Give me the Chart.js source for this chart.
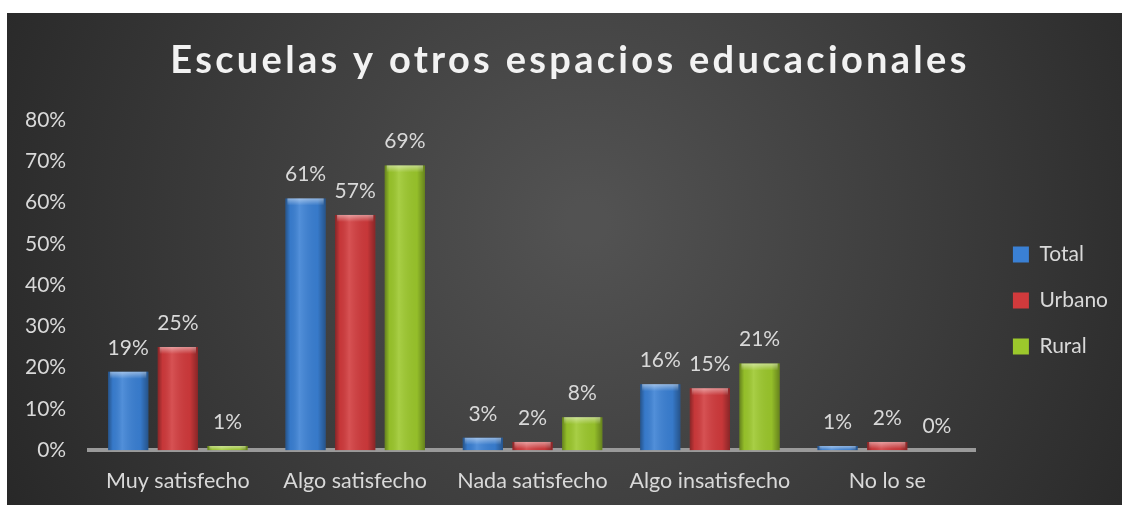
<!DOCTYPE html>
<html>
<head>
<meta charset="utf-8">
<script src="https://cdn.jsdelivr.net/npm/chart.js@4.4.0/dist/chart.umd.min.js"></script>
<style>
  html, body { margin: 0; padding: 0; background: #ffffff; overflow: hidden; }
  #wrap { position: absolute; left: 7px; top: 13px; width: 1115px; height: 499px; }
</style>
</head>
<body>
<div id="wrap"><canvas id="chart"></canvas></div>
<script>
const categories = ["Muy satisfecho", "Algo satisfecho", "Nada satisfecho", "Algo insatisfecho", "No lo se"];
const total = [19, 61, 3, 16, 1];
const urbano = [25, 57, 2, 15, 2];
const rural = [1, 69, 8, 21, 0];
const yTicks = [0, 10, 20, 30, 40, 50, 60, 70, 80];
const chartTitle = "Escuelas y otros espacios educacionales";

const FONT = "Lato, 'Open Sans', sans-serif";
const TXT = "#d9d9d9";

// dark radial background like the Excel theme
const bgPlugin = {
    id: "bg",
    beforeDraw(chart) {
        const c = chart.ctx, w = chart.width, h = chart.height;
        const g = c.createRadialGradient(w * 0.52, h * 0.42, 20, w * 0.52, h * 0.42, w * 0.62);
        g.addColorStop(0, "#525252");
        g.addColorStop(1, "#252525");
        c.save();
        c.fillStyle = g;
        c.fillRect(0, 0, w, h);
        c.restore();
    }
};

// shading on the bars + value labels above them
const barLook = {
    id: "barLook",
    afterDatasetsDraw(chart) {
        const c = chart.ctx;
        chart.data.datasets.forEach((ds, di) => {
            const meta = chart.getDatasetMeta(di);
            meta.data.forEach((bar, i) => {
                const left = bar.x - bar.width / 2, right = bar.x + bar.width / 2;
                const top = bar.y, base = bar.base;
                if (base - top > 0.5) {
                    c.save();
                    const g = c.createLinearGradient(left, 0, right, 0);
                    g.addColorStop(0, "rgba(0,0,0,0.35)");
                    g.addColorStop(0.12, "rgba(0,0,0,0.05)");
                    g.addColorStop(0.35, "rgba(255,255,255,0.12)");
                    g.addColorStop(0.8, "rgba(0,0,0,0.05)");
                    g.addColorStop(1, "rgba(0,0,0,0.35)");
                    c.fillStyle = g;
                    c.fillRect(left, top, bar.width, base - top);
                    const capH = Math.min(7, base - top);
                    const g2 = c.createLinearGradient(0, top, 0, top + capH);
                    g2.addColorStop(0, "rgba(255,255,255,0.45)");
                    g2.addColorStop(1, "rgba(255,255,255,0)");
                    c.fillStyle = g2;
                    c.fillRect(left + 2, top, bar.width - 4, capH);
                    c.restore();
                }
                c.save();
                c.fillStyle = TXT;
                c.font = "21px " + FONT;
                c.textAlign = "center";
                c.textBaseline = "middle";
                c.fillText(ds.data[i] + "%", bar.x, bar.y - 24);
                c.restore();
            });
        });
    }
};

// title with wide letter spacing (drawn here so the spacing stays on the title only)
const spacedTitle = {
    id: "spacedTitle",
    afterDraw(chart) {
        const c = chart.ctx;
        c.save();
        c.letterSpacing = "3.3px";
        c.font = "bold 38px " + FONT;
        c.fillStyle = "#f2f2f2";
        c.textAlign = "center";
        c.textBaseline = "middle";
        c.fillText(chartTitle, 563, 48);
        c.restore();
    }
};

// push the legend a bit away from the plot, as in the original
const legendShift = {
    id: "legendShift",
    afterLayout(chart) {
        chart.legend.left += 12;
        chart.legend.right += 12;
    }
};

const ctx = document.getElementById("chart");

new Chart(ctx, {
    type: "bar",
    data: {
        labels: categories,
        datasets: [
            { label: "Total", data: total, backgroundColor: "#3a80d4" },
            { label: "Urbano", data: urbano, backgroundColor: "#d13a3c" },
            { label: "Rural", data: rural, backgroundColor: "#9cc82c" }
        ]
    },
    options: {
        responsive: true,
        maintainAspectRatio: false,
        animation: false,
        categoryPercentage: 0.84,
        barPercentage: 0.81,
        layout: { padding: { left: -5, right: 16, top: 107, bottom: 0 } },
        plugins: {
            tooltip: { enabled: false },
            title: { display: false },
            legend: {
                position: "right",
                align: "start",
                title: { display: true, text: " ", font: { size: 10 }, padding: { top: 87, bottom: 0 } },
                labels: {
                    color: TXT,
                    font: { family: FONT, size: 21 },
                    boxWidth: 16,
                    boxHeight: 16,
                    padding: 25
                }
            }
        },
        scales: {
            x: {
                grid: { display: false, drawTicks: false },
                border: { display: true, color: "#9a9a9a", width: 4 },
                ticks: { color: TXT, font: { family: FONT, size: 21.5 }, padding: 18, maxRotation: 0 }
            },
            y: {
                min: 0,
                max: 80,
                grid: { display: false, drawTicks: false },
                border: { display: false },
                afterBuildTicks(axis) { axis.ticks = yTicks.map(v => ({ value: v })); },
                ticks: {
                    color: TXT,
                    font: { family: FONT, size: 21 },
                    padding: 23,
                    callback: v => v + "%"
                }
            }
        }
    },
    plugins: [bgPlugin, barLook, spacedTitle, legendShift]
});
</script>
</body>
</html>
